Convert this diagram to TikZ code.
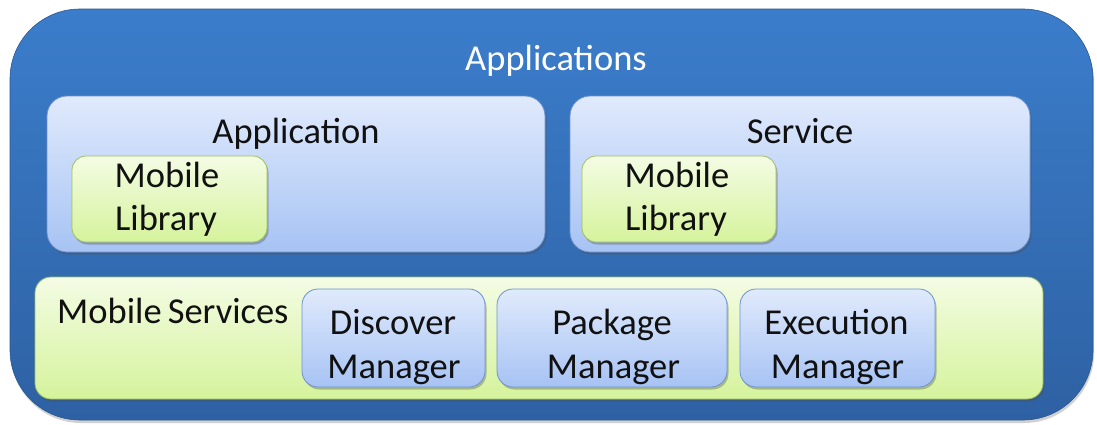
\documentclass[tikz,border=0pt]{standalone}
\usepackage{fontspec}
\setmainfont{Carlito}
\usetikzlibrary{shadows}

\definecolor{frameTop}{HTML}{3B7DCB}
\definecolor{frameBot}{HTML}{2E61A3}
\definecolor{blueTop}{HTML}{E0EAFC}
\definecolor{blueBot}{HTML}{A7C3F4}
\definecolor{blueEdge}{HTML}{6F93CF}
\definecolor{greenTop}{HTML}{F4FCE4}
\definecolor{greenBot}{HTML}{D5F39C}
\definecolor{greenEdge}{HTML}{9FBF63}
\definecolor{ink}{HTML}{111111}

\tikzset{
  softshadow/.style={drop shadow={shadow xshift=1.5pt, shadow yshift=-2.5pt, opacity=0.35, fill=black!70}},
  framebox/.style={rectangle, rounded corners=70pt, top color=frameTop, bottom color=frameBot,
    draw=frameBot!90!black, line width=0.6pt, inner sep=0pt,
    drop shadow={shadow xshift=1pt, shadow yshift=-3pt, opacity=0.3, fill=black!60}},
  bluebox/.style={rectangle, rounded corners=#1, top color=blueTop, bottom color=blueBot,
    draw=blueEdge, line width=0.8pt, inner sep=0pt, softshadow},
  greenbox/.style={rectangle, rounded corners=#1, top color=greenTop, bottom color=greenBot,
    draw=greenEdge, line width=0.8pt, inner sep=0pt, softshadow},
  lbl/.style={font=\fontsize{36.5}{44}\selectfont, text=ink, inner sep=0pt, anchor=base},
  title/.style={lbl, text=white},
}

\begin{document}
\begin{tikzpicture}[x=1pt, y=-1pt]
  \useasboundingbox (0,0) rectangle (1097,424);

  % outer frame
  \node[framebox, minimum width=1083pt, minimum height=411pt] (frame) at (551.5,214.5) {};
  \node[title] (apps) at (556,70) {Applications};

  % application and service containers
  \node[bluebox=20pt, minimum width=498pt, minimum height=156pt] (app) at (296,174) {};
  \node[lbl] (appT) at (296,143) {Application};
  \node[greenbox=14pt, minimum width=195pt, minimum height=86pt] (lib1) at (169.5,199) {};
  \node[lbl] (lib1a) at (167,187) {Mobile};
  \node[lbl] (lib1b) at (166,230) {Library};

  \node[bluebox=20pt, minimum width=460pt, minimum height=156pt] (svc) at (800,174) {};
  \node[lbl] (svcT) at (800,143) {Service};
  \node[greenbox=14pt, minimum width=194pt, minimum height=86pt] (lib2) at (679,199) {};
  \node[lbl] (lib2a) at (677,187) {Mobile};
  \node[lbl] (lib2b) at (676,230) {Library};

  % mobile services layer
  \node[greenbox=16pt, minimum width=1008pt, minimum height=122pt] (ms) at (539,338) {};
  \node[lbl, anchor=base west] (msT) at (57,323) {Mobile\,Services};

  \node[bluebox=16pt, minimum width=183pt, minimum height=98pt] (dm) at (393.5,338) {};
  \node[lbl] (dm1) at (393,334) {Discover};
  \node[lbl] (dm2) at (394,378) {Manager};

  \node[bluebox=16pt, minimum width=230pt, minimum height=98pt] (pm) at (612,338) {};
  \node[lbl] (pm1) at (612,334) {Package};
  \node[lbl] (pm2) at (613.5,378) {Manager};

  \node[bluebox=16pt, minimum width=195pt, minimum height=98pt] (em) at (837.5,338) {};
  \node[lbl] (em1) at (836.5,334) {Execution};
  \node[lbl] (em2) at (837.5,378) {Manager};
\end{tikzpicture}
\end{document}
